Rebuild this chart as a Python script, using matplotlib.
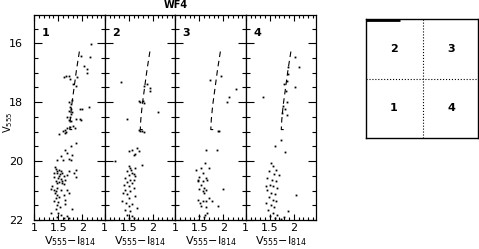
import matplotlib
matplotlib.use("Agg")
import matplotlib.pyplot as plt
from matplotlib.ticker import MultipleLocator

# ridge line drawn in every chip panel (colour, magnitude)
fid_col = [1.94, 1.88, 1.83, 1.78, 1.75, 1.74, 1.82]
fid_mag = [16.28, 16.9, 17.5, 18.1, 18.6, 18.93, 18.93]

# stars per WF4 region
p1_col = [2.19, 2.16, 1.97, 2.04, 2.09, 2.10, 1.62, 1.67, 1.72, 1.74, 1.88, 1.81, 1.86,
          1.72, 1.76, 1.74, 1.77, 1.72, 1.76, 1.79, 1.79, 1.96, 1.99, 2.14, 1.69, 1.74,
          1.72, 1.77, 1.86, 1.95, 1.98, 1.60, 1.65, 1.69, 1.74, 1.81, 1.84, 1.63, 1.67,
          1.51, 1.86, 1.76, 1.65, 1.69, 1.79, 1.55, 1.60, 1.72, 1.48, 1.76, 1.86, 1.45,
          1.48, 1.51, 1.55, 1.41, 1.47, 1.53, 1.58, 1.42, 1.49, 1.56, 1.62, 1.45, 1.51,
          1.58, 1.65, 1.48, 1.69, 1.72, 1.62, 1.86, 1.82, 1.37, 1.34, 1.41, 1.47, 1.55,
          1.43, 1.48, 1.45, 1.51, 1.62, 1.65, 1.41, 1.49, 1.48, 1.45, 1.53, 1.34, 1.49,
          1.55, 1.47, 1.62, 1.69, 1.72, 1.79, 1.63, 1.68, 1.72, 1.44, 1.52, 1.57, 1.46]
p1_mag = [16.02, 16.48, 16.42, 16.76, 16.87, 17.02, 17.13, 17.11, 17.10, 17.21, 17.15, 17.38, 17.44,
          18.00, 18.06, 18.17, 18.23, 18.29, 18.40, 17.93, 18.34, 18.23, 18.23, 18.17, 18.49, 18.49,
          18.59, 18.63, 18.57, 18.57, 18.59, 18.99, 18.93, 18.88, 18.85, 18.82, 18.88, 19.05, 19.00,
          19.08, 19.39, 19.50, 19.61, 19.72, 19.78, 19.84, 19.95, 19.92, 19.95, 19.96, 20.29, 20.26,
          20.33, 20.29, 20.35, 20.40, 20.42, 20.44, 20.40, 20.55, 20.57, 20.60, 20.52, 20.67, 20.70,
          20.67, 20.63, 20.76, 20.46, 20.35, 20.79, 20.55, 20.40, 20.86, 20.94, 20.97, 20.91, 20.97,
          21.08, 21.14, 21.25, 21.22, 21.14, 21.31, 21.36, 21.38, 21.50, 21.61, 21.56, 21.76, 21.76,
          21.82, 21.90, 21.93, 21.87, 21.93, 21.61, 21.47, 20.97, 21.08, 20.20, 20.50, 20.75, 21.02]

p2_col = [1.34, 1.81, 1.88, 1.95, 1.94, 1.71, 1.74, 1.80, 1.81, 2.11, 1.46, 1.71, 1.74, 1.78,
          1.81, 1.51, 1.57, 1.67, 1.71, 1.64, 1.60, 1.22, 1.78, 1.50, 1.53, 1.47, 1.57, 1.50,
          1.64, 1.43, 1.53, 1.60, 1.47, 1.57, 1.40, 1.50, 1.60, 1.43, 1.53, 1.38, 1.47, 1.64,
          1.50, 1.36, 1.45, 1.57, 1.50, 1.67, 1.43, 1.53, 1.47, 1.57, 1.50, 1.60, 1.67, 1.64,
          1.60, 1.55]
p2_mag = [17.33, 17.44, 17.38, 17.52, 17.63, 17.97, 18.00, 17.97, 18.04, 18.34, 18.57, 18.94, 18.99, 18.97,
          19.02, 19.65, 19.62, 19.56, 19.67, 19.76, 19.81, 19.99, 20.12, 20.18, 20.24, 20.35, 20.41, 20.46,
          20.52, 20.58, 20.63, 20.63, 20.71, 20.75, 20.80, 20.86, 20.92, 20.97, 21.03, 21.09, 21.12, 21.20,
          21.26, 21.37, 21.43, 21.46, 21.54, 21.60, 21.65, 21.71, 21.82, 21.88, 21.94, 21.94, 22.00, 20.24,
          20.44, 20.30]

p3_col = [1.73, 1.96, 2.26, 2.12, 2.07, 1.88, 1.92, 1.65, 1.86, 1.62, 1.71, 1.43, 1.53, 1.57,
          1.50, 1.64, 1.47, 1.57, 1.67, 1.53, 1.60, 1.50, 1.64, 1.99, 1.57, 1.71, 1.47, 1.57,
          1.64, 1.76, 1.53, 1.64, 1.90, 1.67, 1.50, 1.59, 1.62, 1.47, 1.48, 1.60, 1.52]
p3_mag = [17.25, 17.10, 17.55, 17.83, 18.00, 18.99, 18.99, 19.64, 19.64, 20.07, 20.24, 20.29, 20.24, 20.41,
          20.55, 20.58, 20.63, 20.69, 20.63, 20.80, 20.92, 20.94, 20.97, 20.94, 21.01, 21.26, 21.31, 21.37,
          21.35, 21.35, 21.51, 21.57, 21.54, 21.77, 21.88, 21.91, 21.82, 21.99, 20.69, 21.09, 21.43]

p4_col = [2.03, 2.10, 2.03, 1.35, 1.88, 1.87, 1.85, 1.80, 1.83, 1.85, 1.78, 1.81, 1.76, 1.85,
          1.73, 1.61, 1.82, 1.52, 1.57, 1.62, 1.49, 1.59, 1.45, 1.54, 1.62, 1.50, 1.57, 1.66,
          1.45, 1.52, 1.61, 1.49, 1.56, 1.64, 1.42, 1.52, 1.59, 1.47, 1.57, 1.66, 1.50, 1.61,
          1.73, 1.80, 2.04, 1.89, 1.43, 1.69]
p4_mag = [16.45, 16.82, 17.47, 17.81, 16.79, 17.04, 17.27, 17.38, 17.61, 18.00, 18.12, 18.23, 18.38, 18.42,
          19.28, 19.48, 19.68, 20.07, 20.18, 20.30, 20.35, 20.43, 20.58, 20.64, 20.69, 20.81, 20.86, 20.92,
          20.98, 21.07, 21.11, 21.23, 21.32, 21.37, 21.43, 21.49, 21.57, 21.66, 21.75, 21.83, 21.88, 21.94,
          21.97, 21.91, 21.15, 21.71, 20.86, 20.47]

panels = [("1", p1_col, p1_mag), ("2", p2_col, p2_mag),
          ("3", p3_col, p3_mag), ("4", p4_col, p4_mag)]
chip_labels = ["2", "3", "1", "4"]

plt.rcParams['font.family'] = 'DejaVu Sans'
fig = plt.figure(figsize=(4.79, 2.49), dpi=100)
fig.patch.set_facecolor('white')

left, bottom, w, h = 34.3 / 479, 1 - 220 / 249, 70.5 / 479, 205 / 249
fs = 8
for i, (lab, col, mag) in enumerate(panels):
    ax = fig.add_axes([left + i * w, bottom, w, h])
    ax.plot(col, mag, ls='none', marker='s', ms=1.3, mew=0, color='black')
    ax.plot(fid_col, fid_mag, color='black', lw=0.8, ls=(0, (5, 3.5)))
    ax.set_xlim(1, 2.47)
    ax.set_ylim(22, 15.04)
    ax.set_xticks([1, 1.5, 2])
    ax.set_xticklabels(['1', '1.5', '2'], fontsize=fs)
    ax.xaxis.set_minor_locator(MultipleLocator(0.1))
    ax.set_yticks([16, 18, 20, 22])
    ax.yaxis.set_minor_locator(MultipleLocator(0.5))
    ax.tick_params(which='both', direction='in', top=True, right=True, width=0.8, pad=2)
    ax.tick_params(axis='x', which='major', length=4)
    ax.tick_params(axis='x', which='minor', length=2)
    ax.tick_params(axis='y', which='major', length=6, pad=8)
    ax.tick_params(axis='y', which='minor', length=3)
    for sp in ax.spines.values():
        sp.set_linewidth(0.9)
    if i == 0:
        ax.set_yticklabels(['16', '18', '20', '22'], fontsize=fs)
    else:
        ax.set_yticklabels([])
    ax.set_xlabel(r'V$_{555}$$-$I$_{814}$', fontsize=fs, labelpad=1)
    ax.text(0.16, 0.91, lab, transform=ax.transAxes, fontsize=fs,
            ha='center', va='center', fontweight='bold')

fig.text(8 / 479, 1 - 122 / 249, r'V$_{555}$', rotation=90, ha='center', va='center', fontsize=7)
fig.text((34.3 + 2 * w * 479) / 479, 0.978, 'WF4', ha='center', va='center', fontsize=7,
         fontweight='bold')

# chip region key
bx = fig.add_axes([366 / 479, 1 - 137.7 / 249, 112 / 479, 118.4 / 249])
bx.set_xlim(0, 1)
bx.set_ylim(0, 1)
bx.set_xticks([])
bx.set_yticks([])
for sp in bx.spines.values():
    sp.set_linewidth(1.0)
bx.axvline(0.506, color='black', lw=0.8, ls=':')
bx.axhline(0.493, color='black', lw=0.8, ls=':')
bx.plot([0.0, 0.3], [0.995, 0.995], color='black', lw=2.0, solid_capstyle='butt')
for (tx, ty), lab in zip([(0.25, 0.75), (0.76, 0.75), (0.25, 0.25), (0.76, 0.25)], chip_labels):
    bx.text(tx, ty, lab, ha='center', va='center', fontsize=fs, fontweight='bold')

fig.savefig('out.png', dpi=100)
